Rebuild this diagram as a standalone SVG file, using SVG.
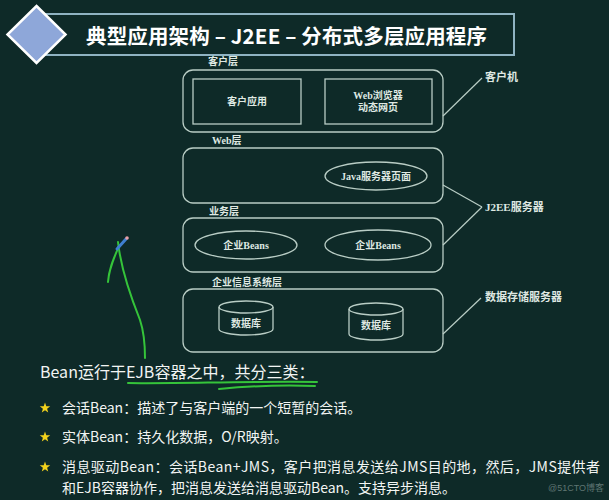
<svg xmlns="http://www.w3.org/2000/svg" width="609" height="500" viewBox="0 0 609 500">
<defs>
<style>
.box{fill:none;stroke:#b9cdc5;stroke-width:1.3}
.lbl{font-family:"Liberation Serif","Noto Sans CJK SC",serif;font-size:10px;font-weight:bold;fill:#dfe8e2}
.rl{font-family:"Liberation Serif","Noto Sans CJK SC",serif;font-size:11px;font-weight:bold;fill:#dfe8e2}
.con{fill:none;stroke:#b9cdc5;stroke-width:1.2}
.body{font-family:"Noto Sans CJK SC","Liberation Sans",sans-serif;fill:#f2f5f3}
.grn{fill:none;stroke:#35c43a;stroke-width:2;stroke-linecap:round;stroke-linejoin:round}
</style>
<path id="star" d="M0,-5.5 L1.29,-1.78 L5.23,-1.70 L2.09,0.68 L3.23,4.45 L0,2.2 L-3.23,4.45 L-2.09,0.68 L-5.23,-1.70 L-1.29,-1.78 Z" fill="#f2d21c"/>
</defs>
<rect width="609" height="500" fill="#0e2a28"/>

<g id="header">
<rect x="45" y="14" width="469" height="41" fill="none" stroke="#8fb3c2" stroke-width="2"/>
<polygon points="36.5,6 65.5,34.5 36.5,63 7.5,34.5" fill="#8ea7d9" stroke="#ffffff" stroke-width="2.5"/>
<text x="86" y="44" font-family="'Noto Sans CJK SC','Liberation Sans',sans-serif" font-size="20.5" font-weight="bold" fill="#ffffff" textLength="401" lengthAdjust="spacing">典型应用架构 – J2EE – 分布式多层应用程序</text>
</g>

<g id="client-tier">
<rect class="box" x="183" y="70" width="260" height="62" rx="10"/>
<text class="lbl" x="208" y="65">客户层</text>
</g>
<g id="client-app">
<rect class="box" x="193" y="79" width="108" height="45"/>
<text class="lbl" x="247" y="105" text-anchor="middle">客户应用</text>
</g>
<g id="web-browser">
<rect class="box" x="325" y="79" width="107" height="45"/>
<text class="lbl" x="378" y="99" text-anchor="middle">Web浏览器</text>
<text class="lbl" x="378" y="111" text-anchor="middle">动态网页</text>
</g>

<g id="web-tier">
<rect class="box" x="183" y="148" width="260" height="55" rx="10"/>
<text class="lbl" x="212" y="144">Web层</text>
</g>
<g id="jsp">
<ellipse class="box" cx="376" cy="176" rx="51" ry="14"/>
<text class="lbl" x="376" y="180" text-anchor="middle">Java服务器页面</text>
</g>

<g id="business-tier">
<rect class="box" x="183" y="218" width="260" height="54" rx="10"/>
<text class="lbl" x="209" y="215">业务层</text>
</g>
<g id="ejb1">
<ellipse class="box" cx="246" cy="245" rx="51" ry="14"/>
<text class="lbl" x="246" y="249" text-anchor="middle">企业Beans</text>
</g>
<g id="ejb2">
<ellipse class="box" cx="378" cy="245" rx="53" ry="15"/>
<text class="lbl" x="378" y="249" text-anchor="middle">企业Beans</text>
</g>

<g id="eis-tier">
<rect class="box" x="183" y="289" width="260" height="63" rx="10"/>
<text class="lbl" x="212" y="286">企业信息系统层</text>
</g>
<g id="db1">
<path class="box" d="M219,307 V329 A27,6 0 0 0 273,329 V307"/>
<ellipse class="box" cx="246" cy="307" rx="27" ry="6"/>
<text class="lbl" x="246" y="327" text-anchor="middle">数据库</text>
</g>
<g id="db2">
<path class="box" d="M349,309 V334 A27,6 0 0 0 403,334 V309"/>
<ellipse class="box" cx="376" cy="309" rx="27" ry="6"/>
<text class="lbl" x="376" y="329" text-anchor="middle">数据库</text>
</g>

<g id="client-machine"><text class="rl" x="485" y="81">客户机</text></g>
<g id="j2ee-server"><text class="rl" x="485" y="211">J2EE服务器</text></g>
<g id="data-server"><text class="rl" x="485" y="301">数据存储服务器</text></g>

<g id="connectors">
<line class="con" x1="443" y1="116" x2="482" y2="78"/>
<line class="con" x1="443" y1="185" x2="482" y2="207"/>
<line class="con" x1="443" y1="245" x2="482" y2="207"/>
<line class="con" x1="443" y1="334" x2="481" y2="298"/>
</g>

<g id="annotation">
<path class="grn" d="M118,242 C121,270 132,300 140,320 C145,335 145,348 145,358"/>
<path class="grn" d="M119,246 C114,258 109,268 108,282"/>
<line x1="117" y1="249" x2="126" y2="239" stroke="#3f7fd0" stroke-width="3" stroke-linecap="round"/>
<circle cx="127" cy="238" r="1.8" fill="#e9a0a8"/>
<path class="grn" d="M128,383 C170,384 250,381 317,382"/>
<path class="grn" d="M219,389 C250,386 290,385 315,386"/>
</g>

<g id="notes">
<text class="body" x="40" y="378" font-size="16">Bean运行于EJB容器之中，共分三类：</text>
<use href="#star" x="45" y="408"/>
<text class="body" x="62" y="413" font-size="14">会话Bean：描述了与客户端的一个短暂的会话。</text>
<use href="#star" x="45" y="437"/>
<text class="body" x="62" y="442" font-size="14">实体Bean：持久化数据，O/R映射。</text>
<use href="#star" x="45" y="467"/>
<text class="body" x="62" y="472" font-size="14" textLength="538" lengthAdjust="spacing">消息驱动Bean：会话Bean+JMS，客户把消息发送给JMS目的地，然后，JMS提供者</text>
<text class="body" x="62" y="493" font-size="14">和EJB容器协作，把消息发送给消息驱动Bean。支持异步消息。</text>
<text x="548" y="491" font-family="'Liberation Sans','Noto Sans CJK SC',sans-serif" font-size="9" fill="#5f7572">@51CTO博客</text>
</g>
</svg>
